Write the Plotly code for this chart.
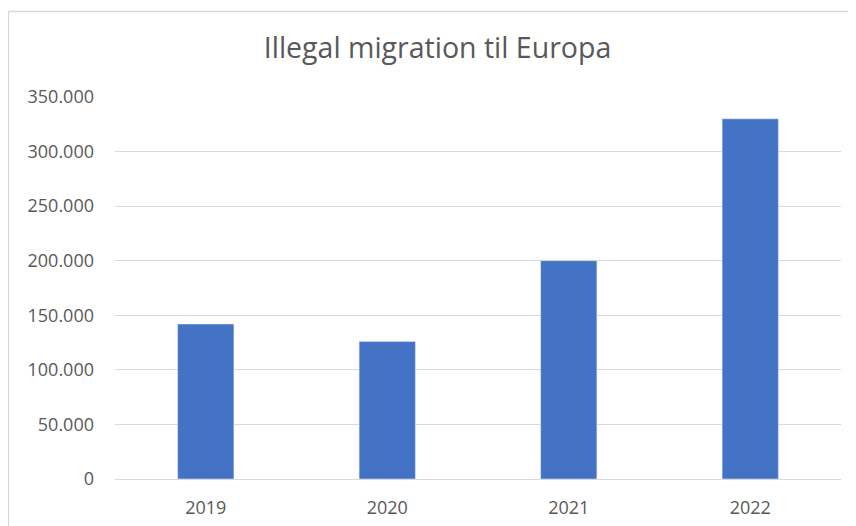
import plotly.graph_objects as go

years = ["2019", "2020", "2021", "2022"]
migrants = [142000, 126000, 200000, 330000]
y_ticks = [0, 50000, 100000, 150000, 200000, 250000, 300000, 350000]
y_tick_labels = ["0", "50.000", "100.000", "150.000", "200.000", "250.000", "300.000", "350.000"]

# page body adds an 8px offset, so the figure is laid out 8px smaller
OFF = 8
W, H = 856 - OFF, 526 - OFF
L, R, T, B = 115 - OFF, 15, 97 - OFF, 47
pw, ph = W - L - R, H - T - B

fig = go.Figure(go.Bar(x=years, y=migrants, marker_color="#4472C4", width=0.31))

# chart-area border (left and top edges visible)
bx = (8.5 - OFF - L) / pw
by = (H - B - (11.5 - OFF)) / ph
fig.add_shape(type="line", xref="paper", yref="paper", x0=bx, x1=(W + 20 - L) / pw, y0=by, y1=by,
              line=dict(color="#D9D9D9", width=1.5))
fig.add_shape(type="line", xref="paper", yref="paper", x0=bx, x1=bx, y0=by, y1=-0.2,
              line=dict(color="#D9D9D9", width=1.5))

fig.update_layout(
    width=W, height=H,
    margin=dict(l=L, r=R, t=T, b=B, autoexpand=False),
    paper_bgcolor="white", plot_bgcolor="white",
    font=dict(family="Open Sans", color="#595959", size=18),
    title=dict(text="Illegal migration til Europa", x=(437.5 - OFF) / W, xref="container", xanchor="center",
               y=1 - (48 - OFF) / H, yref="container", yanchor="middle",
               font=dict(size=28.5, color="#595959")),
    showlegend=False,
)
fig.update_xaxes(showgrid=False, showline=True, linecolor="#D9D9D9", linewidth=1, automargin=False,
                 ticks="", ticklabelstandoff=12, tickfont=dict(size=18, color="#595959"))
fig.update_yaxes(range=[0, 350000], tickvals=y_ticks, ticktext=y_tick_labels, automargin=False,
                 showgrid=True, gridcolor="#D9D9D9", gridwidth=1, zeroline=False,
                 showline=False, ticks="", ticklabelstandoff=20,
                 tickfont=dict(size=18, color="#595959"))

fig.write_html("out.html")
